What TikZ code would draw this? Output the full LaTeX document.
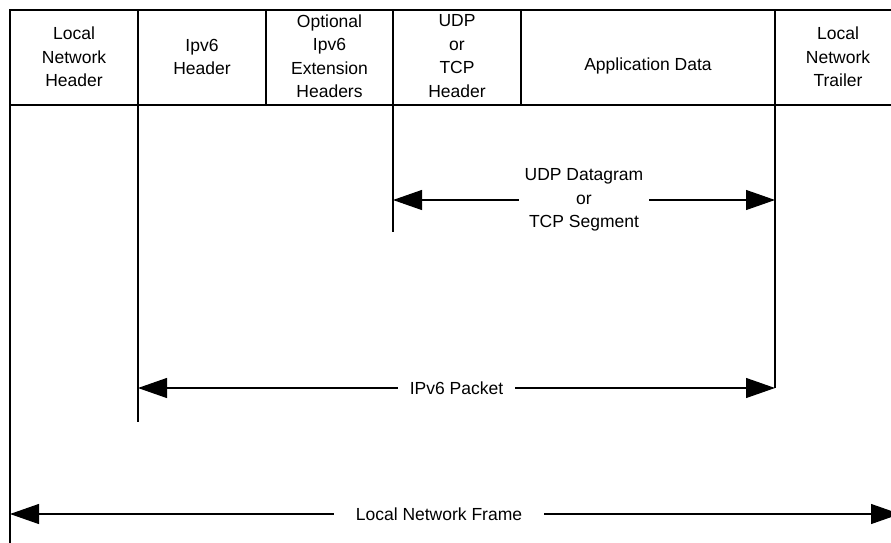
\documentclass[tikz,border=0pt]{standalone}
\usepackage{fontspec}
\setmainfont{Liberation Sans}
\usetikzlibrary{arrows.meta}
\begin{document}
\begin{tikzpicture}[x=1pt,y=-1pt,
  line width=1.2pt,
  lbl/.style={font=\fontsize{17.5}{23.5}\selectfont, align=center, inner sep=0pt},
  gaplbl/.style={lbl, fill=white, inner xsep=12pt, inner ysep=2pt},
  dim/.style={{Triangle[length=29pt,width=20pt]}-{Triangle[length=29pt,width=20pt]}, line width=1.1pt}]
\useasboundingbox (0,0) rectangle (891,542);
\clip (0,0) rectangle (891,542);
% header row
\draw (10,10) rectangle (901,105);
\foreach \x in {138,266,393,521,775} \draw (\x,10) -- (\x,105);
% text of header cells
\node[lbl] (lnh) at (74,57) {Local\\Network\\Header};
\node[lbl] (ip6h) at (202,57) {Ipv6\\Header};
\node[lbl] (opt) at (329.5,56) {Optional\\Ipv6\\Extension\\Headers};
\node[lbl] (udph) at (457,56) {UDP\\or\\TCP\\Header};
\node[lbl] (app) at (648,66) {Application Data};
\node[lbl] (lnt) at (838,57) {Local\\Network\\Trailer};
% vertical extension lines
\coordinate (v0t) at (10,105);  \coordinate (v0b) at (10,545);
\coordinate (v1t) at (138,105); \coordinate (v1b) at (138,422);
\coordinate (v3t) at (393,105); \coordinate (v3b) at (393,232);
\coordinate (v5t) at (775,105); \coordinate (v5b) at (775,388);
\coordinate (v6t) at (901,105); \coordinate (v6b) at (901,545);
\draw (v0t) -- (v0b);
\draw (v1t) -- (v1b);
\draw (v3t) -- (v3b);
\draw (v5t) -- (v5b);
\draw (v6t) -- (v6b);
% dimension arrows
\coordinate (uL) at (393,200); \coordinate (uR) at (775,200);
\coordinate (pL) at (138,388); \coordinate (pR) at (775,388);
\coordinate (fL) at (10,514);  \coordinate (fR) at (900,514);
\draw[dim] (uL) -- (uR) node[gaplbl, midway, inner xsep=6pt] (udpl) {UDP Datagram\\or\\TCP Segment};
\draw[dim] (pL) -- (pR) node[gaplbl, midway] (pktl) {IPv6 Packet};
\draw[dim] (fL) -- (fR) node[gaplbl, pos=0.482, inner xsep=22pt] (frl) {Local Network Frame};
\end{tikzpicture}
\end{document}
